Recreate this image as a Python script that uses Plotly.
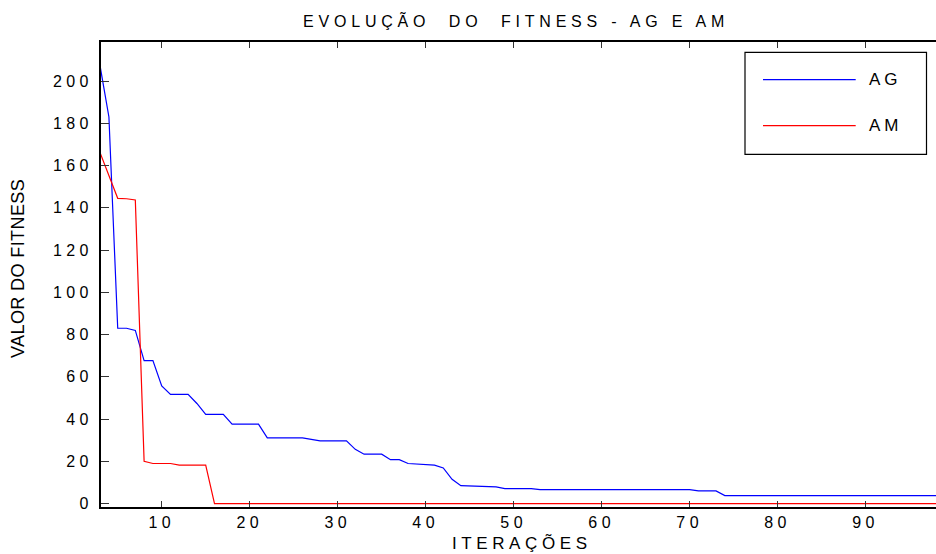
import plotly.graph_objects as go

# Iteration index (x axis)
iteracoes = list(range(3, 99))

# Best fitness per iteration - genetic algorithm (AG)
fitness_ag = [
    207, 183, 83, 83, 82, 67.7, 67.7, 55.7, 51.7, 51.7,
    51.7, 47.4, 42.2, 42.2, 42.2, 37.6, 37.6, 37.6, 37.6, 31.1,
    31.1, 31.1, 31.1, 31.1, 30.4, 29.7, 29.7, 29.7, 29.7, 25.7,
    23.4, 23.4, 23.4, 20.8, 20.8, 19.0, 18.7, 18.3, 18.2, 16.9,
    11.5, 8.5, 8.3, 8.1, 8.0, 7.9, 7.1, 7.1, 7.1, 7.1,
    6.6, 6.6, 6.6, 6.6, 6.6, 6.6, 6.6, 6.6, 6.6, 6.6,
    6.6, 6.6, 6.6, 6.6, 6.6, 6.6, 6.6, 6.6, 6.0, 6.0,
    6.0, 3.8, 3.8, 3.8, 3.8, 3.8, 3.8, 3.8, 3.8, 3.8,
    3.8, 3.8, 3.8, 3.8, 3.8, 3.8, 3.8, 3.8, 3.8, 3.8,
    3.8, 3.8, 3.8, 3.8, 3.8, 3.8,
]

# Best fitness per iteration - memetic algorithm (AM)
fitness_am = [
    166, 155, 144.5, 144.3, 143.7, 20, 19, 19, 19, 18.2,
    18.2, 18.2, 18.2, 0, 0, 0, 0, 0, 0, 0,
    0, 0, 0, 0, 0, 0, 0, 0, 0, 0,
    0, 0, 0, 0, 0, 0, 0, 0, 0, 0,
    0, 0, 0, 0, 0, 0, 0, 0, 0, 0,
    0, 0, 0, 0, 0, 0, 0, 0, 0, 0,
    0, 0, 0, 0, 0, 0, 0, 0, 0, 0,
    0, 0, 0, 0, 0, 0, 0, 0, 0, 0,
    0, 0, 0, 0, 0, 0, 0, 0, 0, 0,
    0, 0, 0, 0, 0, 0,
]

x_ticks = [10, 20, 30, 40, 50, 60, 70, 80, 90]
y_ticks = [0, 20, 40, 60, 80, 100, 120, 140, 160, 180, 200]

series_names = ["AG", "AM"]
series_colors = ["#0000ff", "#ff0000"]

title_text = "EVOLUÇÃO\u00a0\u00a0DO\u00a0\u00a0FITNESS - AG E AM"
x_title = "ITERAÇÕES"
y_title = "VALOR DO FITNESS"

FONT = "Liberation Sans, Arial, sans-serif"
W, H = 936, 554
ML, MR, MT, MB = 101, 0, 42, 47
PW, PH = W - ML - MR, H - MT - MB


def spaced(text, px):
    return f'<span style="letter-spacing:{px}px">{text}</span>'


def px_x(px):
    return (px - ML) / PW


def px_y(py):
    return (H - MB - py) / PH


fig = go.Figure()
for name, vals, col in zip(series_names, [fitness_ag, fitness_am], series_colors):
    fig.add_trace(go.Scatter(
        x=iteracoes, y=vals, mode="lines", name=name,
        line=dict(color=col, width=1.2), showlegend=False,
    ))

fig.update_layout(
    width=W, height=H,
    margin=dict(l=ML, r=MR, t=MT, b=MB, pad=0),
    paper_bgcolor="white", plot_bgcolor="white",
    font=dict(family=FONT, color="black", size=16),
    xaxis=dict(
        range=[3.1, 98], tickvals=x_ticks,
        ticktext=[spaced(str(v), 4.4) for v in x_ticks],
        ticks="inside", ticklen=6, tickwidth=1, tickcolor="#333",
        showline=True, linecolor="black", linewidth=2, mirror="ticks",
        showgrid=False, zeroline=False,
        tickfont=dict(family=FONT, size=16, color="black"),
    ),
    yaxis=dict(
        range=[-1.6, 218.5], tickvals=y_ticks,
        ticktext=[spaced(str(v), 4.4) for v in y_ticks],
        ticks="inside", ticklen=8, tickwidth=1, tickcolor="#333",
        showline=True, linecolor="black", linewidth=2, mirror=False,
        showgrid=False, zeroline=False, ticklabelstandoff=3,
        tickfont=dict(family=FONT, size=16, color="black"),
    ),
)

P = dict(xref="paper", yref="paper", showarrow=False)
annotations = [
    dict(text=spaced(title_text, 4.8), x=px_x(516), y=px_y(21),
         xanchor="center", yanchor="middle",
         font=dict(size=16, family=FONT), **P),
    dict(text=spaced(x_title, 4.6), x=px_x(522), y=px_y(543),
         xanchor="center", yanchor="middle",
         font=dict(size=17, family=FONT), **P),
    dict(text=spaced(y_title, 0.4), x=px_x(18), y=px_y(269), textangle=-90,
         xanchor="center", yanchor="middle",
         font=dict(size=18, family=FONT), **P),
]

# Legend box drawn in paper space
shapes = [
    dict(type="rect", xref="paper", yref="paper",
         x0=px_x(745), x1=px_x(926.5), y0=px_y(154.3), y1=px_y(52.3),
         line=dict(color="black", width=1.2), fillcolor="white"),
]
for i, (name, col) in enumerate(zip(series_names, series_colors)):
    ly = 79.7 + 46 * i
    shapes.append(dict(type="line", xref="paper", yref="paper",
                       x0=px_x(763), x1=px_x(855.7), y0=px_y(ly), y1=px_y(ly),
                       line=dict(color=col, width=1.2)))
    annotations.append(dict(text=spaced(name, 4), x=px_x(867), y=px_y(ly),
                            xanchor="left", yanchor="middle",
                            font=dict(size=17, family=FONT), **P))

fig.update_layout(annotations=annotations, shapes=shapes)
fig.write_html("out.html")
